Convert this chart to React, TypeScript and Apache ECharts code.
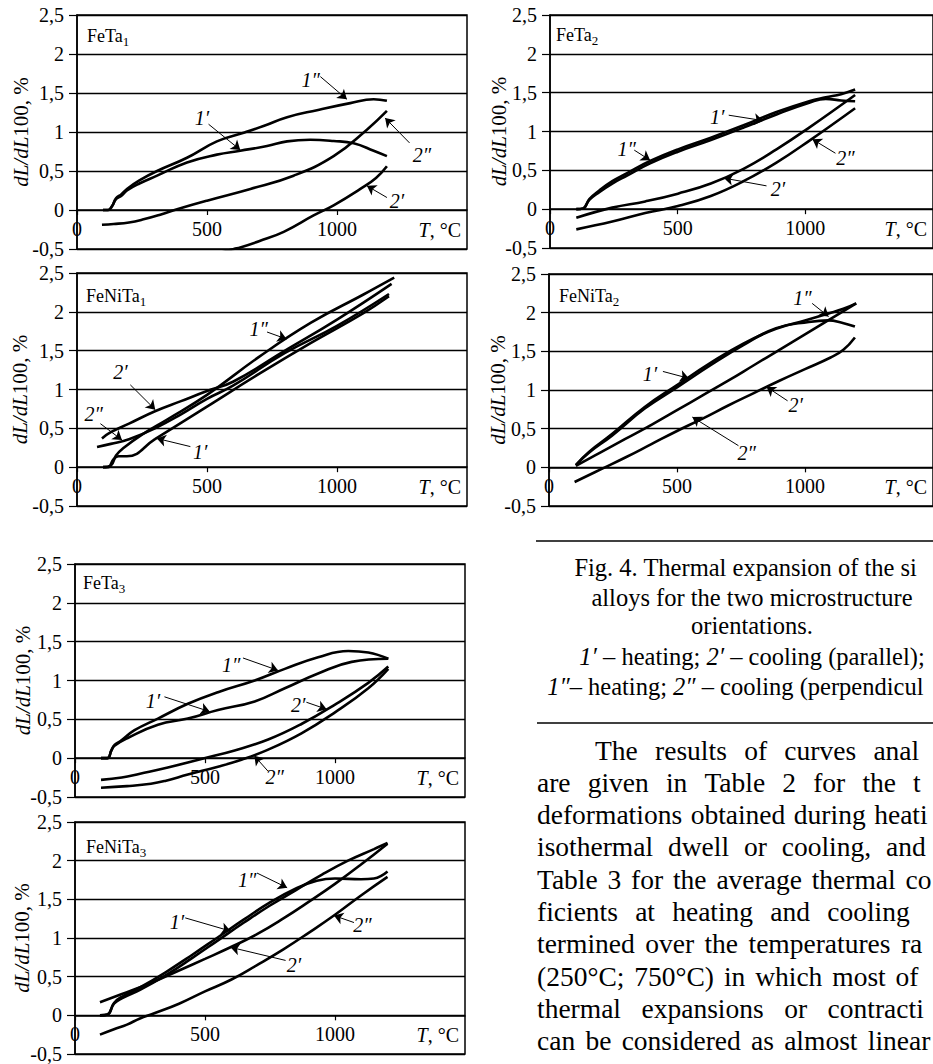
import React, { useEffect, useRef } from "react";
import * as echarts from "echarts";

const FAMILY = "'Liberation Serif', 'Times New Roman', serif";
const INK = "#000";

// axes
const X_MIN = 0, X_MAX = 1500, X_STEP = 500;
const Y_MIN = -0.5, Y_MAX = 2.5, Y_STEP = 0.5;
const X_NAME = "{i|T}, °C";
const Y_NAME = "{i|dL/dL}100, %";
const CURVE_LABELS = ["1′", "2′", "1″", "2″"];

type Pt = [number, number];
type Ann = { label: string; text: Pt; from: Pt; to: Pt };

// ---------- FeTa1 ----------
const feTa1_h1: Pt[] = [[100, 0], [120, 0], [135, 0.05], [150, 0.14], [170, 0.18], [192, 0.25], [240, 0.34], [308, 0.44], [423, 0.61], [538, 0.71], [628, 0.76], [731, 0.82], [808, 0.88], [897, 0.9], [987, 0.885], [1064, 0.855], [1141, 0.76], [1192, 0.69]];
const feTa1_c1: Pt[] = [[540, -0.56], [603, -0.5], [628, -0.48], [700, -0.4], [795, -0.28], [910, -0.07], [987, 0.06], [1090, 0.27], [1150, 0.41], [1192, 0.56]];
const feTa1_h2: Pt[] = [[100, 0], [120, 0], [135, 0.05], [150, 0.15], [170, 0.2], [192, 0.27], [240, 0.38], [308, 0.5], [423, 0.67], [538, 0.88], [641, 0.99], [720, 1.08], [808, 1.19], [923, 1.28], [1051, 1.37], [1141, 1.42], [1192, 1.4]];
const feTa1_c2: Pt[] = [[96, -0.19], [141, -0.18], [200, -0.16], [256, -0.12], [320, -0.06], [385, 0.01], [500, 0.12], [667, 0.27], [833, 0.44], [987, 0.69], [1115, 1.03], [1192, 1.27]];
const feTa1_ann: Ann[] = [
  { label: "1″", text: [899, 1.67], from: [936, 1.71], to: [1038, 1.42] },
  { label: "1′", text: [481, 1.18], from: [506, 1.1], to: [628, 0.77] },
  { label: "2″", text: [1327, 0.71], from: [1279, 0.86], to: [1185, 1.18] },
  { label: "2′", text: [1231, 0.12], from: [1192, 0.16], to: [1115, 0.31] },
];

// ---------- FeTa2 ----------
const feTa2_h1: Pt[] = [[103, 0], [130, 0.01], [154, 0.12], [193, 0.22], [244, 0.33], [300, 0.43], [392, 0.59], [501, 0.74], [630, 0.89], [758, 1.05], [887, 1.22], [1015, 1.37], [1080, 1.42], [1140, 1.4], [1195, 1.39]];
const feTa2_c1: Pt[] = [[103, -0.11], [244, 0.02], [373, 0.1], [501, 0.2], [630, 0.33], [758, 0.52], [887, 0.77], [1015, 1.05], [1195, 1.47]];
const feTa2_h2: Pt[] = [[103, 0], [130, 0.01], [154, 0.13], [193, 0.24], [244, 0.36], [300, 0.46], [392, 0.62], [501, 0.77], [630, 0.92], [758, 1.08], [887, 1.25], [1015, 1.39], [1080, 1.44], [1140, 1.48], [1195, 1.54]];
const feTa2_c2: Pt[] = [[103, -0.26], [244, -0.16], [373, -0.05], [501, 0.04], [630, 0.17], [758, 0.36], [887, 0.6], [1015, 0.88], [1195, 1.3]];
const feTa2_ann: Ann[] = [
  { label: "1′", text: [655, 1.19], from: [700, 1.21], to: [835, 1.14] },
  { label: "1″", text: [300, 0.77], from: [330, 0.76], to: [392, 0.63] },
  { label: "2″", text: [1157, 0.66], from: [1118, 0.72], to: [1028, 0.9] },
  { label: "2′", text: [893, 0.26], from: [848, 0.3], to: [681, 0.4] },
];

// ---------- FeNiTa1 ----------
const feNiTa1_h1: Pt[] = [[100, 0], [120, 0], [140, 0.1], [160, 0.14], [192, 0.14], [300, 0.36], [500, 0.78], [700, 1.2], [900, 1.6], [1100, 1.98], [1200, 2.2]];
const feNiTa1_c1: Pt[] = [[96, 0.37], [130, 0.45], [200, 0.56], [300, 0.72], [400, 0.85], [500, 0.98], [600, 1.1], [800, 1.5], [1000, 1.9], [1210, 2.36]];
const feNiTa1_h2: Pt[] = [[100, 0], [130, 0.02], [150, 0.15], [180, 0.25], [250, 0.42], [350, 0.62], [500, 0.93], [700, 1.42], [900, 1.86], [1100, 2.22], [1220, 2.44]];
const feNiTa1_c2: Pt[] = [[77, 0.26], [130, 0.3], [200, 0.36], [300, 0.5], [400, 0.68], [500, 0.88], [600, 1.05], [800, 1.47], [1000, 1.82], [1200, 2.23]];
const feNiTa1_ann: Ann[] = [
  { label: "2′", text: [167, 1.23], from: [205, 1.06], to: [301, 0.74] },
  { label: "2″", text: [64, 0.69], from: [90, 0.56], to: [173, 0.35] },
  { label: "1′", text: [474, 0.2], from: [436, 0.265], to: [307, 0.37] },
  { label: "1″", text: [699, 1.78], from: [731, 1.74], to: [806, 1.65] },
];

// ---------- FeNiTa2 ----------
const feNiTa2_h1: Pt[] = [[105, 0.03], [156, 0.19], [246, 0.41], [374, 0.76], [503, 1.04], [631, 1.32], [759, 1.58], [887, 1.8], [1015, 1.88], [1092, 1.9], [1144, 1.87], [1195, 1.82]];
const feNiTa2_c1: Pt[] = [[100, -0.19], [200, -0.03], [300, 0.13], [400, 0.3], [500, 0.47], [600, 0.63], [700, 0.8], [800, 0.96], [900, 1.12], [1000, 1.27], [1100, 1.42], [1150, 1.52], [1195, 1.68]];
const feNiTa2_h2: Pt[] = [[105, 0.03], [156, 0.2], [246, 0.43], [374, 0.78], [503, 1.07], [631, 1.35], [759, 1.6], [887, 1.79], [1000, 1.9], [1092, 1.99], [1150, 2.05], [1200, 2.12]];
const feNiTa2_c2: Pt[] = [[105, 0.02], [200, 0.19], [300, 0.37], [400, 0.55], [500, 0.74], [600, 0.93], [700, 1.12], [800, 1.32], [900, 1.52], [1000, 1.72], [1100, 1.92], [1200, 2.12]];
const feNiTa2_ann: Ann[] = [
  { label: "1″", text: [990, 2.19], from: [1028, 2.12], to: [1092, 1.95] },
  { label: "1′", text: [394, 1.21], from: [445, 1.24], to: [547, 1.15] },
  { label: "2′", text: [964, 0.8], from: [932, 0.86], to: [850, 1.04] },
  { label: "2″", text: [772, 0.19], from: [740, 0.28], to: [560, 0.65] },
];

// ---------- FeTa3 ----------
const feTa3_h1: Pt[] = [[100, 0], [125, 0], [140, 0.1], [152, 0.16], [203, 0.26], [319, 0.43], [434, 0.51], [550, 0.62], [691, 0.73], [807, 0.9], [935, 1.09], [1064, 1.24], [1205, 1.28]];
const feTa3_c1: Pt[] = [[100, -0.28], [180, -0.25], [250, -0.2], [357, -0.12], [486, -0.01], [614, 0.1], [743, 0.24], [871, 0.44], [1000, 0.69], [1128, 0.97], [1205, 1.18]];
const feTa3_h2: Pt[] = [[100, 0], [125, 0], [140, 0.1], [152, 0.17], [175, 0.22], [229, 0.36], [319, 0.51], [434, 0.7], [550, 0.85], [691, 1.0], [807, 1.15], [935, 1.3], [1051, 1.38], [1128, 1.36], [1205, 1.28]];
const feTa3_c2: Pt[] = [[100, -0.38], [200, -0.36], [292, -0.33], [350, -0.29], [434, -0.21], [550, -0.11], [640, -0.02], [743, 0.11], [871, 0.32], [1000, 0.59], [1128, 0.9], [1205, 1.15]];
const feTa3_ann: Ann[] = [
  { label: "1″", text: [601, 1.2], from: [646, 1.29], to: [781, 1.13] },
  { label: "1′", text: [300, 0.73], from: [344, 0.79], to: [518, 0.6] },
  { label: "2′", text: [858, 0.68], from: [890, 0.72], to: [968, 0.63] },
  { label: "2″", text: [768, -0.24], from: [743, -0.17], to: [690, 0.03] },
];

// ---------- FeNiTa3 ----------
const feNiTa3_h1: Pt[] = [[96, 0], [125, 0.01], [150, 0.15], [180, 0.22], [250, 0.33], [350, 0.52], [450, 0.74], [550, 0.97], [650, 1.2], [750, 1.42], [850, 1.62], [950, 1.82], [1050, 2.0], [1150, 2.15], [1202, 2.23]];
const feNiTa3_c1: Pt[] = [[96, 0.17], [200, 0.3], [300, 0.43], [400, 0.58], [500, 0.73], [598, 0.88], [700, 1.05], [800, 1.25], [900, 1.47], [1000, 1.7], [1100, 1.95], [1202, 2.22]];
const feNiTa3_h2: Pt[] = [[96, 0], [125, 0.01], [150, 0.16], [180, 0.24], [250, 0.36], [350, 0.56], [450, 0.78], [550, 1.01], [650, 1.24], [750, 1.46], [850, 1.64], [930, 1.74], [1000, 1.77], [1100, 1.76], [1150, 1.77], [1202, 1.86]];
const feNiTa3_c2: Pt[] = [[96, -0.25], [150, -0.18], [200, -0.12], [250, -0.04], [300, 0.02], [400, 0.15], [500, 0.31], [600, 0.46], [700, 0.65], [800, 0.85], [900, 1.07], [1000, 1.3], [1100, 1.55], [1202, 1.79]];
const feNiTa3_ann: Ann[] = [
  { label: "1″", text: [662, 1.75], from: [700, 1.84], to: [816, 1.65] },
  { label: "1′", text: [392, 1.21], from: [424, 1.26], to: [598, 1.09] },
  { label: "2′", text: [842, 0.65], from: [810, 0.71], to: [598, 0.88] },
  { label: "2″", text: [1105, 1.17], from: [1073, 1.2], to: [996, 1.29] },
];

// panel names (base, subscript)
const PANEL_NAMES: [string, string][] = [
  ["FeTa", "1"], ["FeTa", "2"], ["FeNiTa", "1"], ["FeNiTa", "2"], ["FeTa", "3"], ["FeNiTa", "3"],
];
const PANEL_CURVES: Pt[][][] = [
  [feTa1_h1, feTa1_c1, feTa1_h2, feTa1_c2],
  [feTa2_h1, feTa2_c1, feTa2_h2, feTa2_c2],
  [feNiTa1_h1, feNiTa1_c1, feNiTa1_h2, feNiTa1_c2],
  [feNiTa2_h1, feNiTa2_c1, feNiTa2_h2, feNiTa2_c2],
  [feTa3_h1, feTa3_c1, feTa3_h2, feTa3_c2],
  [feNiTa3_h1, feNiTa3_c1, feNiTa3_h2, feNiTa3_c2],
];
const PANEL_ANNS: Ann[][] = [feTa1_ann, feTa2_ann, feNiTa1_ann, feNiTa2_ann, feTa3_ann, feNiTa3_ann];

// caption & text
type Run = [string, boolean];
const CAPTION: { runs: Run[]; visible: string }[] = [
  { runs: [["Fig. 4. Thermal expansion of the six", false]], visible: "Fig. 4. Thermal expansion of the si" },
  { runs: [["alloys for the two microstructure", false]], visible: "alloys for the two microstructure" },
  { runs: [["orientations.", false]], visible: "orientations." },
  { runs: [["1′", true], [" – heating; ", false], ["2′", true], [" – cooling (parallel);", false]], visible: "1′ – heating; 2′ – cooling (parallel);" },
  { runs: [["1″", true], ["– heating; ", false], ["2″", true], [" – cooling (perpendicular).", false]], visible: "1″– heating; 2″ – cooling (perpendicul" },
];
const PARAGRAPH: { full: string; visible: string }[] = [
  { full: "The results of curves analysis", visible: "The results of curves analy" },
  { full: "are given in Table 2 for the total", visible: "are given in Table 2 for the to" },
  { full: "deformations obtained during heating,", visible: "deformations obtained during heati" },
  { full: "isothermal dwell or cooling, and in", visible: "isothermal dwell or cooling, and" },
  { full: "Table 3 for the average thermal coef-", visible: "Table 3 for the average thermal co" },
  { full: "ficients at heating and cooling de-", visible: "ficients at heating and cooling" },
  { full: "termined over the temperatures range", visible: "termined over the temperatures ran" },
  { full: "(250°C; 750°C) in which most of the", visible: "(250°C; 750°C) in which most of" },
  { full: "thermal expansions or contractions", visible: "thermal expansions or contractio" },
  { full: "can be considered as almost linear in", visible: "can be considered as almost linear" },
];

// layout (pixels)
const PAGE_W = 933;
const PLOT_W = 390;
const LAYOUT = [
  { left: 77, top: 15, height: 234, nameGap: 46, dx: 10, dy: 27 },
  { left: 550, top: 15, height: 233, nameGap: 41, dx: 6, dy: 26 },
  { left: 77, top: 273, height: 233, nameGap: 47, dx: 9, dy: 29 },
  { left: 549, top: 274, height: 232, nameGap: 41, dx: 10, dy: 28 },
  { left: 75, top: 564, height: 233, nameGap: 42, dx: 8, dy: 25 },
  { left: 75, top: 822, height: 232, nameGap: 43, dx: 11, dy: 31 },
];
const CAP_CX = 752;
const CAP_Y = [567, 597, 625, 656, 686];
const CAP_SIZE = 24.5;
const PARA_SIZE = 27.5;
const PARA_LEFT = 537, PARA_RIGHT = 962, PARA_INDENT = 595, PARA_Y0 = 750, PARA_LH = 32.3;

export default function App() {
  const ref = useRef<HTMLDivElement>(null);
  useEffect(() => {
    const el = ref.current!;
    const chart = echarts.init(el, null, { renderer: "svg" });
    const ctx = document.createElement("canvas").getContext("2d")!;
    const measure = (s: string, size: number, italic = false) => {
      ctx.font = `${italic ? "italic " : ""}${size}px 'Liberation Serif'`;
      return ctx.measureText(s).width;
    };
    // keep a text fully inside the page: drop trailing glyphs that would be cut by the page edge
    const fit = (x: number, s: string, size: number, italic = false) => {
      let t = s;
      while (t.length > 0 && x + measure(t, size, italic) > PAGE_W - 1) t = t.slice(0, -1);
      return t;
    };
    const txt = (x: number, y: number, s: string, size: number, italic = false) => ({
      type: "text", x, y, silent: true,
      style: { text: s, fontSize: size, fontFamily: FAMILY, fontStyle: italic ? "italic" : "normal", fill: INK, align: "left", verticalAlign: "middle" },
    });

    const grid = LAYOUT.map((l) => ({
      left: l.left, top: l.top, width: PLOT_W, height: l.height,
      show: true, borderColor: INK, borderWidth: 1.5, backgroundColor: "transparent", containLabel: false,
    }));
    const richI = (size: number) => ({ i: { fontStyle: "italic", fontSize: size, fontFamily: FAMILY, color: INK } });
    const xAxis = LAYOUT.map((l, i) => ({
      type: "value", gridIndex: i, min: X_MIN, max: X_MAX, interval: X_STEP, position: "bottom",
      offset: -(l.height * (0 - Y_MIN)) / (Y_MAX - Y_MIN),
      axisLine: { show: true, onZero: false, lineStyle: { color: INK, width: 1.5 } },
      axisTick: { show: true, inside: false, length: 5, lineStyle: { color: INK, width: 1.2 } },
      axisLabel: { show: true, showMaxLabel: false, margin: 9, color: INK, fontSize: 20, fontFamily: FAMILY, formatter: (v: number) => String(v) },
      splitLine: { show: false },
      name: X_NAME, nameLocation: "end", nameGap: -6, nameMoveOverlap: false,
      nameTextStyle: { align: "right", verticalAlign: "top", padding: [10, 0, 0, 0], fontSize: 20, fontFamily: FAMILY, color: INK, rich: richI(20) },
    }));
    const yAxis = LAYOUT.map((l, i) => ({
      type: "value", gridIndex: i, min: Y_MIN, max: Y_MAX, interval: Y_STEP,
      axisLine: { show: true, onZero: false, lineStyle: { color: INK, width: 1.5 } },
      axisTick: { show: true, inside: false, length: 8, lineStyle: { color: INK, width: 1.2 } },
      axisLabel: { formatter: (v: number) => String(v).replace(".", ","), margin: 13, color: INK, fontSize: 20, fontFamily: FAMILY },
      splitLine: { show: true, lineStyle: { color: INK, width: 1.3 } },
      name: Y_NAME, nameLocation: "middle", nameGap: l.nameGap, nameRotate: 90, nameMoveOverlap: false,
      nameTextStyle: { fontSize: 21, fontFamily: FAMILY, color: INK, rich: richI(21) },
    }));

    const series: any[] = [];
    PANEL_CURVES.forEach((curves, i) => {
      curves.forEach((data, k) => {
        const s: any = {
          type: "line", name: `${PANEL_NAMES[i].join("")} ${CURVE_LABELS[k]}`,
          xAxisIndex: i, yAxisIndex: i, data, showSymbol: false, symbol: "none",
          smooth: 0.45, clip: true, silent: true,
          lineStyle: { color: INK, width: 2.6 }, z: 3,
        };
        if (k === 0) {
          const anns = PANEL_ANNS[i];
          s.markLine = {
            silent: true, symbol: ["none", "arrow"], symbolSize: 9, precision: 3,
            lineStyle: { color: INK, width: 1, type: "solid" },
            label: { show: false }, emphasis: { disabled: true },
            data: anns.map((a) => [{ coord: a.from }, { coord: a.to }]),
          };
          s.markPoint = {
            silent: true, symbol: "circle", symbolSize: 1, itemStyle: { color: "rgba(0,0,0,0)" },
            label: { show: true, position: "inside", color: INK, fontSize: 20, fontFamily: FAMILY, fontStyle: "italic", formatter: "{b}" },
            emphasis: { disabled: true },
            data: anns.map((a) => ({ name: a.label, coord: a.text })),
          };
        }
        series.push(s);
      });
    });

    const graphic: any[] = [];
    // panel names
    PANEL_NAMES.forEach(([base, sub], i) => {
      const l = LAYOUT[i];
      const x = l.left + l.dx;
      const baseY = l.top + l.dy;
      graphic.push(txt(x, baseY - 0.34 * 18, base, 18));
      graphic.push(txt(x + measure(base, 18), baseY + 4 - 0.34 * 13, sub, 13));
    });
    // rules
    graphic.push({ type: "line", silent: true, shape: { x1: 536, y1: 541, x2: PAGE_W, y2: 541 }, style: { stroke: INK, lineWidth: 1.3 } });
    graphic.push({ type: "line", silent: true, shape: { x1: 537, y1: 723, x2: PAGE_W, y2: 723 }, style: { stroke: INK, lineWidth: 1.3 } });
    // caption
    CAPTION.forEach((line, k) => {
      const total = line.runs.reduce((acc, [s, it]) => acc + measure(s, CAP_SIZE, it), 0);
      let x = CAP_CX - total / 2;
      let remaining = line.visible.length;
      for (const [s, it] of line.runs) {
        if (remaining <= 0) break;
        const shown = s.slice(0, remaining);
        const lead = shown.length - shown.trimStart().length;
        const xr = x + (lead ? measure(s.slice(0, lead), CAP_SIZE, it) : 0);
        const t = fit(xr, shown.trimStart(), CAP_SIZE, it);
        if (t) graphic.push(txt(xr, CAP_Y[k], t, CAP_SIZE, it));
        x += measure(s, CAP_SIZE, it);
        remaining -= s.length;
      }
    });
    // justified paragraph
    PARAGRAPH.forEach((line, k) => {
      const words = line.full.split(" ");
      const start = k === 0 ? PARA_INDENT : PARA_LEFT;
      const widths = words.map((w) => measure(w, PARA_SIZE));
      const sum = widths.reduce((a, b) => a + b, 0);
      const gap = (PARA_RIGHT - start - sum) / (words.length - 1);
      let x = start;
      let idx = 0;
      const y = PARA_Y0 + k * PARA_LH;
      words.forEach((w, j) => {
        const vis = line.visible.length - idx;
        if (vis > 0) {
          const t = fit(x, w.slice(0, vis), PARA_SIZE);
          if (t) graphic.push(txt(x, y, t, PARA_SIZE));
        }
        x += widths[j] + gap;
        idx += w.length + 1;
      });
    });

    chart.setOption({
      animation: false,
      backgroundColor: "#fff",
      textStyle: { fontFamily: FAMILY, color: INK },
      grid, xAxis, yAxis, series, graphic,
    });
    return () => chart.dispose();
  }, []);
  return <div ref={ref} style={{ position: "absolute", left: 0, top: 0, width: 933, height: 1064, background: "#fff" }} />;
}
